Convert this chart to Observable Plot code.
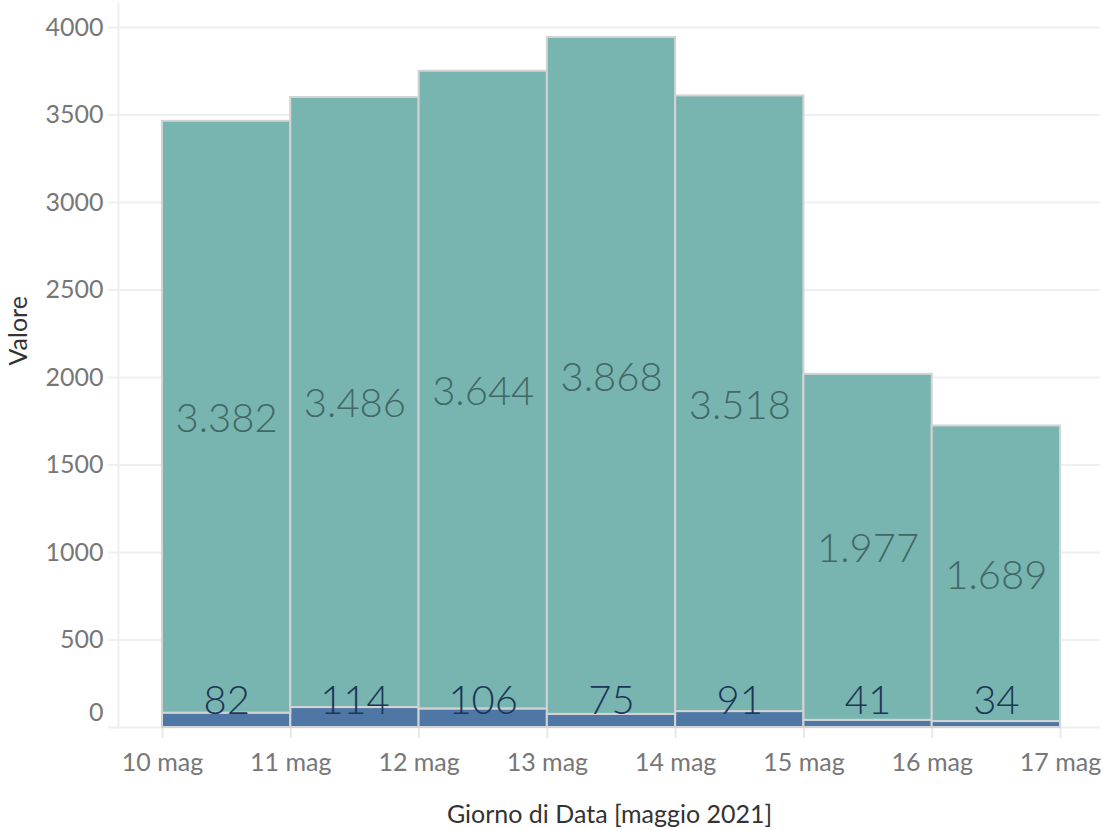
<!DOCTYPE html>
<html>
<head>
<meta charset="utf-8">
<script src="https://cdn.jsdelivr.net/npm/d3@7"></script>
<script src="https://cdn.jsdelivr.net/npm/@observablehq/plot@0.6"></script>
<style>
  html, body { margin: 0; padding: 0; background: #fff; }
  #chart svg { display: block; }
</style>
</head>
<body>
<div id="chart"></div>
<script>
// ---- data ----
const days = ["2021-05-10", "2021-05-11", "2021-05-12", "2021-05-13", "2021-05-14", "2021-05-15", "2021-05-16"];
const baseValues = [82, 114, 106, 75, 91, 41, 34];
const topValues = [3382, 3486, 3644, 3868, 3518, 1977, 1689];
const xTickDays = ["2021-05-10", "2021-05-11", "2021-05-12", "2021-05-13", "2021-05-14", "2021-05-15", "2021-05-16", "2021-05-17"];
const yTicks = [0, 500, 1000, 1500, 2000, 2500, 3000, 3500, 4000];
const xTitle = "Giorno di Data [maggio 2021]";
const yTitle = "Valore";

// ---- helpers ----
const parse = d3.utcParse("%Y-%m-%d");
const itFormat = d3.formatLocale({decimal: ",", thousands: ".", grouping: [3], currency: ["", "€"]}).format(",d");
const rows = days.map((d, i) => {
  const start = parse(d);
  return {
    start,
    end: d3.utcDay.offset(start, 1),
    mid: d3.utcHour.offset(start, 12),
    base: baseValues[i],
    top: topValues[i]
  };
});
const xTicks = xTickDays.map(parse);

const FONT = "Lato, 'Open Sans', sans-serif";
const teal = "#78b5b0";
const blue = "#4e77a5";
const edge = "#d3d3d3";
const grid = "#efefef";

const chart = Plot.plot({
  width: 1103,
  height: 830,
  marginLeft: 118,
  marginRight: 3,
  marginTop: 3,
  marginBottom: 103,
  style: {fontFamily: FONT, background: "#fff"},
  x: {type: "utc", domain: [xTicks[0], xTicks[xTicks.length - 1]], insetLeft: 44, insetRight: 40, axis: null},
  y: {domain: [0, 4000], insetTop: 24, axis: null},
  marks: [
    // gridlines incl. left tick stubs
    Plot.ruleY(yTicks, {y: d => d, stroke: grid, strokeWidth: 2, insetLeft: -10}),
    Plot.frame({anchor: "left", stroke: grid, strokeWidth: 2}),
    // x tick marks
    Plot.axisX({ticks: xTicks, tickSize: 11, tickPadding: 15, stroke: "#e8e8e8", strokeWidth: 2,
      fill: "#777", fontSize: 25, tickFormat: d => `${d.getUTCDate()} mag`}),
    // bars
    Plot.rect(rows, {x1: "start", x2: "end", y1: 0, y2: "base", fill: blue, stroke: edge, strokeWidth: 2}),
    Plot.rect(rows, {x1: "start", x2: "end", y1: "base", y2: d => d.base + d.top, fill: teal, stroke: edge, strokeWidth: 2}),
    // labels
    Plot.text(rows, {x: "mid", y: d => d.base + d.top / 2, text: d => itFormat(d.top),
      fill: "#426866", fontSize: 40, fontWeight: 300, lineAnchor: "middle", dy: 2}),
    Plot.text(rows, {x: "mid", y: 0, text: d => itFormat(d.base),
      fill: "#1c3657", fontSize: 40, fontWeight: 300, lineAnchor: "middle", dy: -26}),
    // y tick labels
    Plot.text(yTicks.filter(d => d !== 0), {y: d => d, text: d => String(d), frameAnchor: "left", dx: -15,
      textAnchor: "end", fill: "#777", fontSize: 25}),
    Plot.text([0], {y: d => d, text: d => String(d), frameAnchor: "left", dx: -15, dy: -15,
      textAnchor: "end", fill: "#777", fontSize: 25}),
    // axis titles
    Plot.text([xTitle], {frameAnchor: "bottom", dy: 95, text: d => d, fill: "#333", fontSize: 25}),
    Plot.text([yTitle], {frameAnchor: "left", dx: -100, rotate: -90, text: d => d, fill: "#333", fontSize: 25})
  ]
});
document.getElementById("chart").appendChild(chart);
</script>
</body>
</html>
